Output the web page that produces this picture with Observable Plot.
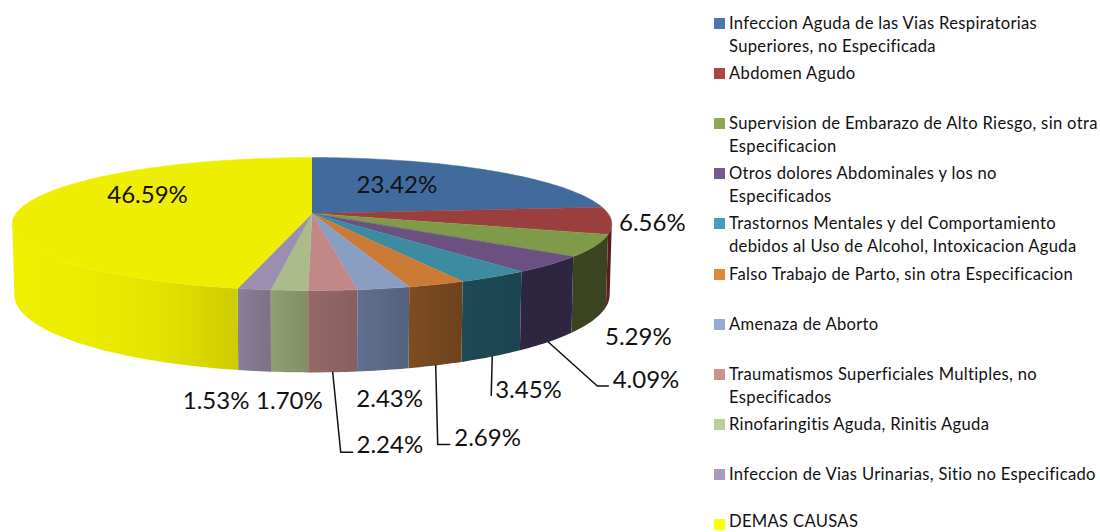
<!DOCTYPE html>
<html><head><meta charset="utf-8">
<script src="https://cdn.jsdelivr.net/npm/d3@7"></script>
<script src="https://cdn.jsdelivr.net/npm/@observablehq/plot@0.6"></script>
<style>
html,body{margin:0;padding:0;background:#fff;overflow:hidden;width:1100px;height:532px}
#wrap{position:relative;width:1100px;height:532px;overflow:hidden}
#legend{position:absolute;left:714px;top:11.6px;width:386px;font:16.6px/23px Lato,sans-serif;letter-spacing:.32px;color:#111}
.item{position:relative;height:50.2px;padding-left:15px;white-space:pre-line}
.item:last-child{top:-3.5px}
.item:last-child .sw{top:9.5px}
.sw{position:absolute;left:0;top:6px;width:11px;height:11px}
</style></head><body><div id="wrap"><div id="legend"></div></div>
<script>
// ---- data ----
const categories = [
  "Infeccion Aguda de las Vias Respiratorias\nSuperiores, no Especificada",
  "Abdomen Agudo",
  "Supervision de Embarazo de Alto Riesgo, sin otra\nEspecificacion",
  "Otros dolores Abdominales y los no\nEspecificados",
  "Trastornos Mentales y del Comportamiento\ndebidos al Uso de Alcohol, Intoxicacion Aguda",
  "Falso Trabajo de Parto, sin otra Especificacion",
  "Amenaza de Aborto",
  "Traumatismos Superficiales Multiples, no\nEspecificados",
  "Rinofaringitis Aguda, Rinitis Aguda",
  "Infeccion de Vias Urinarias, Sitio no Especificado",
  "DEMAS CAUSAS"
];
const values = [23.42, 6.56, 5.29, 4.09, 3.45, 2.69, 2.43, 2.24, 1.70, 1.53, 46.59];
// ---- styles ----
const legendColors = ["#4a78ae","#ac4543","#90a850","#75598f","#42a0b8","#e0883a","#95aacd","#d09090","#bad09a","#a89bbf","#ffff00"];
const topColors = ["#416b9c","#9a3e3e","#7f9a48","#6a5182","#3d8ba1","#cb7b35","#8a9ec1","#c18887","#abbb89","#9a8fb0","#eeee00"];
const sideColors = [
  ["#2a4668","#2a4668"],["#5c1f1f","#4e1a1a"],["#3a4420","#3a4420"],["#2e2540","#2e2540"],
  ["#1c4a55","#1c4450"],["#7f4c22","#6c421d"],["#5e7090","#56617a"],["#966868","#875f60"],
  ["#909e72","#818e66"],["#8a7f9a","#7d7188"],["#efef00","#ecec00","#e2e200","#cfcc00"]
];
// label and leader offsets from each slice's rim point
const labelOffsets = [[-93,15],[41,3],[43,92],[96,116],[35,113],[51,154],[6,111],[57,155],[0,111],[-38,112],[125,-11]];
const leaderOffsets = {3:[[49,44],[60,44]],4:[[-1,39]],5:[[2,79],[14,79]],7:[[8,80],[20,80]]};

// ---- projection of the tilted pie ----
const cx=311.5, cy=213, Rx=296, Ry=64.8, k=0.158, D=69, bottomShrink=0.993;
const rad=d=>d*Math.PI/180;
function P(theta,bottom){
  const X=Math.sin(theta),Y=Math.cos(theta),w=1+k*Y;
  let x=cx+Rx*X/w,y=cy-Ry*Y/w;
  if(bottom){x=cx+(x-cx)*bottomShrink;y+=D/w;}
  return {x,y};
}
const total=d3.sum(values);
let acc=0;
const slices=values.map((v,i)=>{
  const a0=acc/total*2*Math.PI;acc+=v;const a1=acc/total*2*Math.PI;
  return {i,v,a0,a1,mid:(a0+a1)/2};
});
const arc=(a0,a1,step=rad(1))=>{const n=Math.max(1,Math.ceil((a1-a0)/step));return d3.range(n+1).map(j=>a0+(a1-a0)*j/n);};
const visLo=Math.acos(-k), visHi=2*Math.PI-visLo;

const marks=[];
const gradients=[];
// side walls, each filled with a horizontal gradient
slices.forEach(s=>{
  const lo=Math.max(s.a0,visLo),hi=Math.min(s.a1,visHi);
  if(hi<=lo)return;
  const as=arc(lo,hi);
  const top=as.map(a=>P(a,false)),bot=as.map(a=>P(a,true)).reverse();
  const xs=top.map(p=>p.x);
  const id="side"+s.i;
  // colours run screen-left to screen-right
  gradients.push({id,x1:d3.min(xs),x2:d3.max(xs),stops:sideColors[s.i]});
  marks.push(Plot.line([...top,...bot],{x:"x",y:"y",fill:`url(#${id})`,stroke:"none",curve:"linear"}));
});
marks.unshift(()=>{
  const defs=d3.create("svg:defs");
  gradients.forEach(g=>{
    const lg=defs.append("linearGradient").attr("id",g.id).attr("gradientUnits","userSpaceOnUse")
      .attr("x1",g.x1).attr("x2",g.x2).attr("y1",0).attr("y2",0);
    g.stops.forEach((c,j)=>lg.append("stop").attr("offset",j/(g.stops.length-1)).attr("stop-color",c));
  });
  return defs.node();
});
// top face
slices.forEach(s=>{
  const pts=[{x:cx,y:cy},...arc(s.a0,s.a1).map(a=>P(a,false))];
  const c=topColors[s.i];
  marks.push(Plot.line(pts,{x:"x",y:"y",fill:c,stroke:c,strokeWidth:0.5,curve:"linear"}));
});
// leaders
Object.entries(leaderOffsets).forEach(([i,offs])=>{
  const a=P(slices[+i].mid,true);
  const pts=[a,...offs.map(([dx,dy])=>({x:a.x+dx,y:a.y+dy}))];
  marks.push(Plot.line(pts,{x:"x",y:"y",stroke:"#111",strokeWidth:1.5,curve:"linear"}));
});
// labels
const labels=slices.map(s=>{
  const a=P(s.mid,false);
  return {x:a.x+labelOffsets[s.i][0],y:a.y+labelOffsets[s.i][1],t:s.v.toFixed(2)+"%"};
});
marks.push(Plot.text(labels,{x:"x",y:"y",text:"t",fontSize:24,fontFamily:"Lato",fill:"#111",textAnchor:"middle",lineAnchor:"middle"}));

const chart=Plot.plot({
  width:700,height:532,margin:0,
  x:{domain:[0,700],range:[0,700],axis:null},
  y:{domain:[0,532],range:[0,532],axis:null},
  marks
});
chart.style.position="absolute";chart.style.left="0";chart.style.top="0";
document.getElementById("wrap").prepend(chart);
const lg=document.getElementById("legend");
categories.forEach((c,i)=>{
  const d=document.createElement("div");d.className="item";
  const sw=document.createElement("span");sw.className="sw";sw.style.background=legendColors[i];
  d.append(sw,document.createTextNode(c));lg.append(d);
});
</script></body></html>
